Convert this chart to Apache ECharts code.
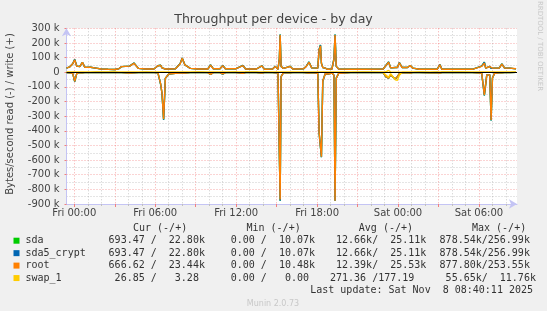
<!DOCTYPE html>
<html><head><meta charset="utf-8">
<script src="https://cdn.jsdelivr.net/npm/echarts@6/dist/echarts.min.js"></script>
<style>html,body{margin:0;padding:0;background:#f0f0f0}#c{width:547px;height:311px}</style>
</head><body><div id="c"></div>
<script>
// ---- time axis (hours from Fri 00:00) ----
const XMIN = -0.58, XMAX = 32.82;
const labelHours = [0, 6, 12, 18, 24, 30];
const labelText = ['Fri 00:00', 'Fri 06:00', 'Fri 12:00', 'Fri 18:00', 'Sat 00:00', 'Sat 06:00'];
const majorHours = [0, 3, 6, 9, 12, 15, 18, 21, 24, 27, 30];
const minorHours = [1,2,4,5,7,8,10,11,13,14,16,17,19,20,22,23,25,26,28,29,31,32];

// ---- samples (k bytes/s) ----
const hours = [-0.58,-0.35,-0.12,0.03,0.18,0.4,0.6,0.78,1.2,1.6,
  2.0,2.5,3.0,3.3,3.5,4.1,4.42,4.75,5.3,5.9,
  6.2,6.4,6.5,6.62,6.75,7.0,7.5,7.85,8.0,8.2,
  8.6,9.2,9.9,10.1,10.3,10.8,11.0,11.2,12.0,12.5,
  12.7,13.5,13.9,14.1,14.7,14.9,15.1,15.2,15.26,15.33,
  15.5,16.0,16.2,17.0,17.2,17.4,17.6,18.05,18.15,18.25,
  18.32,18.42,18.6,18.8,19.1,19.25,19.33,19.42,19.6,20.5,
  21.5,22.9,23.1,23.3,23.45,23.8,23.95,24.1,24.3,24.7,
  24.9,25.1,25.6,26.4,26.9,27.1,27.25,28.5,29.5,30.2,
  30.4,30.5,30.58,30.8,30.9,31.0,31.15,31.5,31.7,31.9,
  32.3,32.75];
const sdaWrite = [28,36,58,88,42,38,68,33,34,28,
  22,20,19,24,38,42,63,26,22,22,
  44,48,30,24,22,22,24,60,98,50,
  26,22,22,50,24,24,46,24,24,46,
  22,22,44,20,22,40,20,92,257,40,
  26,40,22,24,41,70,30,28,155,186,
  62,32,28,20,22,92,257,40,22,20,
  20,22,46,70,30,32,32,66,32,32,
  46,28,20,20,20,52,20,20,20,42,
  68,28,28,40,26,28,28,28,57,28,
  28,22.8];
const sdaRead = [3,4,8,64,10,3,4,3,3,2,
  2,2,2,3,3,6,4,3,2,3,
  4,82,145,325,42,12,8,6,4,6,
  3,2,3,15,3,3,13,3,2,8,
  2,2,5,2,3,4,3,10,878,30,
  4,4,3,3,4,6,3,8,415,418,
  580,62,10,12,6,20,878.5,40,8,3,
  2,3,31,41,20,46,30,10,4,3,
  6,3,2,4,2,5,2,2,3,5,
  158,152,18,18,330,40,8,4,4,3,
  3,0.7];
const sda5Write = [28,36,58,88,42,38,68,33,34,28,
  22,20,19,24,38,42,63,26,22,22,
  44,48,30,24,22,22,24,60,98,50,
  26,22,22,50,24,24,46,24,24,46,
  22,22,44,20,22,40,20,92,257,40,
  26,40,22,24,41,70,30,28,155,186,
  62,32,28,20,22,92,257,40,22,20,
  20,22,46,70,30,32,32,66,32,32,
  46,28,20,20,20,52,20,20,20,42,
  68,28,28,40,26,28,28,28,57,28,
  28,22.8];
const sda5Read = [3,4,8,64,10,3,4,3,3,2,
  2,2,2,3,3,6,4,3,2,3,
  4,82,145,325,42,12,8,6,4,6,
  3,2,3,15,3,3,13,3,2,8,
  2,2,5,2,3,4,3,10,878,30,
  4,4,3,3,4,6,3,8,415,418,
  580,62,10,12,6,20,878.5,40,8,3,
  2,3,31,41,20,46,30,10,4,3,
  6,3,2,4,2,5,2,2,3,5,
  158,152,18,18,330,40,8,4,4,3,
  3,0.7];
const rootWrite = [28,36,58,84,42,38,67,33,34,28,
  22,20,19,24,38,42,61,26,22,22,
  44,47,30,24,22,22,24,58,95,50,
  26,22,22,48,24,24,45,24,24,45,
  22,22,43,20,22,39,20,90,254,40,
  26,39,22,24,40,68,30,28,150,180,
  60,32,28,20,22,90,254,40,22,20,
  20,22,45,68,30,32,32,64,32,32,
  45,28,20,20,20,50,20,20,20,40,
  61,28,28,39,26,28,28,28,55,28,
  28,23.4];
const rootRead = [3,4,8,62,10,3,4,3,3,2,
  2,2,2,3,3,6,4,3,2,3,
  4,80,142,320,40,12,8,6,4,6,
  3,2,3,14,3,3,12,3,2,8,
  2,2,5,2,3,4,3,10,870,30,
  4,4,3,3,4,6,3,8,412,415,
  577,60,10,12,6,20,877,40,8,3,
  2,3,30,40,20,45,30,10,4,3,
  6,3,2,4,2,5,2,2,3,5,
  155,150,18,18,326,40,8,4,4,3,
  3,0.7];
const swapWrite = [0,0,0,0,0,0,0,0,0,0,
  0,0,0,0,0,0,0,0,0,0,
  0,0,0,0,0,0,0,0,0,0,
  0,0,0,0,0,0,0,0,0,0,
  0,0,0,0,0,0,0,0,0,0,
  0,0,0,0,0,0,0,0,0,0,
  0,0,0,0,0,0,0,0,0,0,
  0,0,3,12,2,0,0,0,0,0,
  0,0,0,0,0,0,0,0,0,0,
  0,0,0,0,0,0,0,0,0,0,
  0,0];
const swapRead = [0,0,0,0,0,0,0,0,0,0,
  0,0,0,0,0,0,0,0,0,0,
  0,0,0,0,0,0,0,0,0,0,
  0,0,0,0,0,0,0,0,0,0,
  0,0,0,0,0,0,0,0,0,0,
  0,0,0,0,0,0,0,0,0,0,
  0,0,0,0,0,0,0,0,0,0,
  0,0,20,35,10,52,55,20,0,0,
  0,0,0,0,0,0,0,0,0,0,
  0,0,0,0,0,0,0,0,0,0,
  0,0];

// ---- legend table ----
const legendNames = ['sda', 'sda5_crypt', 'root', 'swap_1'];
const legendColors = ['#00cc00', '#0066b3', '#ff8000', '#ffcc00'];
const curVals = ['693.47 /  22.80k', '693.47 /  22.80k', '666.62 /  23.44k', ' 26.85 /   3.28'];
const minVals = ['  0.00 /  10.07k', '  0.00 /  10.07k', '  0.00 /  10.48k', '  0.00 /   0.00'];
const avgVals = [' 12.66k/  25.11k', ' 12.66k/  25.11k', ' 12.39k/  25.53k', '271.36 /177.19'];
const maxVals = ['878.54k/256.99k', '878.54k/256.99k', '877.80k/253.55k', ' 55.65k/  11.76k'];
const headers = ['Cur (-/+)', 'Min (-/+)', 'Avg (-/+)', 'Max (-/+)'];

const pair = (vals, sign) => hours.map((h, i) => [h, sign * vals[i]]);
const devices = [
  [sdaWrite, sdaRead], [sda5Write, sda5Read], [rootWrite, rootRead], [swapWrite, swapRead]
];
const series = [];
devices.forEach((d, k) => {
  [[d[1], -1], [d[0], 1]].forEach(([vals, s]) => {
    series.push({
      type: 'line', name: legendNames[k], data: pair(vals, s), showSymbol: false,
      symbol: 'none', silent: true, animation: false, z: 2 + k * 0.1,
      lineStyle: { color: legendColors[k], width: 1.4 }
    });
  });
});
series.push({
  type: 'line', data: [], silent: true, animation: false, z: 5,
  markLine: { silent: true, symbol: 'none', animation: false, label: { show: false },
    lineStyle: { color: '#000', width: 1.2, type: 'solid' }, data: [{ yAxis: 0 }] }
});

const mono = '10px "DejaVu Sans Mono"';
const txtCol = '#333';
const graphics = [];
const T = (text, x, y, font, fill, align, extra) => Object.assign({
  type: 'text', x, y, silent: true,
  style: { text, font, fill, align, verticalAlign: 'middle', textAlign: align, textVerticalAlign: 'middle' }
}, extra || {});
graphics.push(T('Throughput per device - by day', 273.5, 20, '12.6px "DejaVu Sans"', '#444', 'center'));
graphics.push(T('Bytes/second read (-) / write (+)', 10.5, 114, '10px "DejaVu Sans"', '#444', 'center', { rotation: Math.PI / 2 }));
graphics.push(T('RRDTOOL / TOBI OETIKER', 540, 46, '7px "DejaVu Sans"', '#c8c8c8', 'center', { rotation: -Math.PI / 2 }));
const colX = [133, 246.5, 358.8, 472];
headers.forEach((h, i) => graphics.push(T(h, colX[i], 228.2, mono, txtCol, 'left')));
const cellX = [108.6, 218.7, 330, 439.6];
legendNames.forEach((n, r) => {
  const y = 240.7 + r * 12.45;
  graphics.push({ type: 'rect', silent: true, shape: { x: 13.5, y: y - 3, width: 6, height: 6 }, style: { fill: legendColors[r] } });
  graphics.push(T(n, 25.5, y, mono, txtCol, 'left'));
  [curVals, minVals, avgVals, maxVals].forEach((col, c) => graphics.push(T(col[r], cellX[c], y, mono, txtCol, 'left')));
});
graphics.push(T('Last update: Sat Nov  8 08:40:11 2025', 533, 290.2, mono, txtCol, 'right'));
graphics.push(T('Munin 2.0.73', 273, 303.5, '8px "DejaVu Sans"', '#c8c8c8', 'center'));

const chart = echarts.init(document.getElementById('c'), null, { renderer: 'canvas' });
const axisCol = '#c4c4f4';
const gridGray = 'rgba(160,160,160,0.55)';
const gridRed = 'rgba(240,110,110,0.6)';
chart.setOption({
  backgroundColor: '#f0f0f0',
  animation: false,
  grid: { left: 66.5, right: 30, top: 28.3, bottom: 107, show: true, backgroundColor: '#ffffff', borderWidth: 0 },
  xAxis: [
    { type: 'value', min: XMIN, max: XMAX, position: 'bottom',
      axisLine: { show: true, onZero: false, lineStyle: { color: axisCol }, symbol: ['none', 'arrow'], symbolSize: [7, 8] },
      axisTick: { show: true, customValues: minorHours, length: 2, lineStyle: { color: '#c0c0c0' } },
      axisLabel: { show: false },
      splitLine: { show: true, lineStyle: { color: gridGray, type: [1, 2], width: 1 } } },
    { type: 'value', min: XMIN, max: XMAX, position: 'bottom',
      axisLine: { show: false, onZero: false },
      axisTick: { show: true, customValues: majorHours, length: 3, lineStyle: { color: '#f08080' } },
      axisLabel: { show: true, customValues: labelHours, margin: 4, color: '#444', fontFamily: 'DejaVu Sans', fontSize: 10,
        formatter: v => labelText[labelHours.indexOf(v)] || '' },
      splitLine: { show: true, lineStyle: { color: gridRed, type: [1, 2], width: 1 } } }
  ],
  yAxis: {
    type: 'value', min: -900, max: 300, interval: 100,
    axisLine: { show: true, onZero: false, lineStyle: { color: axisCol }, symbol: ['none', 'arrow'], symbolSize: [7, 8] },
    axisTick: { show: true, length: 2, lineStyle: { color: '#f08080' } },
    axisLabel: { color: '#444', fontFamily: 'DejaVu Sans', fontSize: 10, margin: 7,
      formatter: v => v === 0 ? '0' : v + ' k' },
    splitLine: { show: true, lineStyle: { color: gridRed, type: [1, 2], width: 1 } },
    minorTick: { show: false, splitNumber: 2 },
    minorSplitLine: { show: true, lineStyle: { color: gridGray, type: [1, 2], width: 1 } }
  },
  series,
  graphic: graphics
});
</script></body></html>
